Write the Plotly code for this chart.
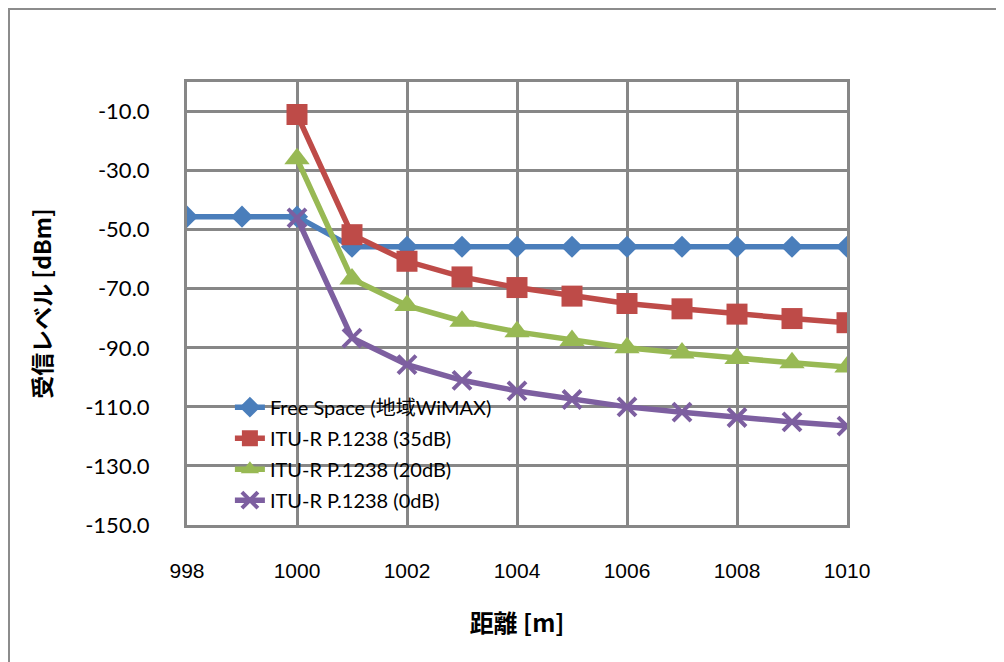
import plotly.graph_objects as go

distance = [998, 999, 1000, 1001, 1002, 1003, 1004, 1005, 1006, 1007, 1008, 1009, 1010]
free_space = [-45.6, -45.6, -45.6, -55.8, -55.8, -55.8, -55.8, -55.8, -55.8, -55.8, -55.8, -55.8, -55.8]
itu_35db = [None, None, -11.0, -51.7, -60.7, -66.0, -69.6, -72.5, -75.0, -76.8, -78.6, -80.1, -81.5]
itu_20db = [None, None, -26.0, -66.7, -75.7, -81.0, -84.6, -87.5, -90.0, -91.8, -93.6, -95.1, -96.5]
itu_0db = [None, None, -46.0, -86.7, -95.7, -101.0, -104.6, -107.5, -110.0, -111.8, -113.6, -115.1, -116.5]
series_names = ["Free Space (地域WiMAX)", "ITU-R P.1238 (35dB)", "ITU-R P.1238 (20dB)", "ITU-R P.1238 (0dB)"]
y_ticks = [-150, -130, -110, -90, -70, -50, -30, -10]
x_ticks = [998, 1000, 1002, 1004, 1006, 1008, 1010]

colors = ["#4A7EBB", "#BE4B48", "#98B954", "#7D5FA0"]
symbols = ["diamond", "square", "triangle-up", "x-thin"]
sizes = [17, 21, 22, 18]

fig = go.Figure()
for i, (name, vals) in enumerate(zip(series_names, [free_space, itu_35db, itu_20db, itu_0db])):
    marker = dict(symbol=symbols[i], size=sizes[i], color=colors[i])
    if symbols[i] == "x-thin":
        marker["line"] = dict(color=colors[i], width=4)
    fig.add_trace(go.Scatter(
        x=distance, y=vals, name=name, mode="lines+markers",
        line=dict(color=colors[i], width=5.5),
        marker=marker, legendgroup=f"g{i}",
    ))

grid = "#878787"
# page body has an 8px margin; figure is sized to fill the rest of the window
W, H = 996, 654
L, R, T, B = 179, 157, 74, 137
pw, ph = W - L - R, H - T - B
fig.update_layout(
    width=W, height=H,
    margin=dict(l=L, r=R, t=T, b=B),
    paper_bgcolor="white", plot_bgcolor="white",
    font=dict(family="Lato, Noto Sans CJK JP", color="#000000"),
    showlegend=True,
    legend=dict(
        x=0.065, y=0.31, xanchor="left", yanchor="top",
        bgcolor="rgba(0,0,0,0)", font=dict(size=20, family="Lato, Noto Sans CJK JP"),
        tracegroupgap=2,
    ),
    xaxis=dict(
        range=[998, 1010], tickvals=x_ticks, ticktext=[str(v) for v in x_ticks],
        showgrid=True, gridcolor=grid, gridwidth=3,
        showline=True, linecolor=grid, linewidth=3, mirror=True,
        zeroline=False, ticks="", ticklabelstandoff=25,
        tickfont=dict(size=21, family="Liberation Sans"),
        title=dict(text="<b>距離 [m]</b>", font=dict(size=24, family="Noto Sans CJK JP"), standoff=34),
    ),
    yaxis=dict(
        range=[-150, 0], tickvals=y_ticks, ticktext=[f"{v:.1f}" for v in y_ticks],
        showgrid=True, gridcolor=grid, gridwidth=3,
        showline=True, linecolor=grid, linewidth=3, mirror=True,
        zeroline=False, ticks="", ticklabelstandoff=30,
        tickfont=dict(size=22, family="Lato"),
        title=dict(text="<b>受信レベル [dBm]</b>", font=dict(size=23, family="Noto Sans CJK JP"), standoff=28),
    ),
    shapes=[
        dict(type="line", xref="paper", yref="paper", x0=-L / pw, x1=1.5,
             y0=(ph + T - 1) / ph, y1=(ph + T - 1) / ph, line=dict(color="#8c8c8c", width=2)),
        dict(type="line", xref="paper", yref="paper", x0=-(L - 1) / pw, x1=-(L - 1) / pw,
             y0=-0.5, y1=(ph + T - 1) / ph, line=dict(color="#8c8c8c", width=2)),
    ],
)

fig.write_html("out.html")
